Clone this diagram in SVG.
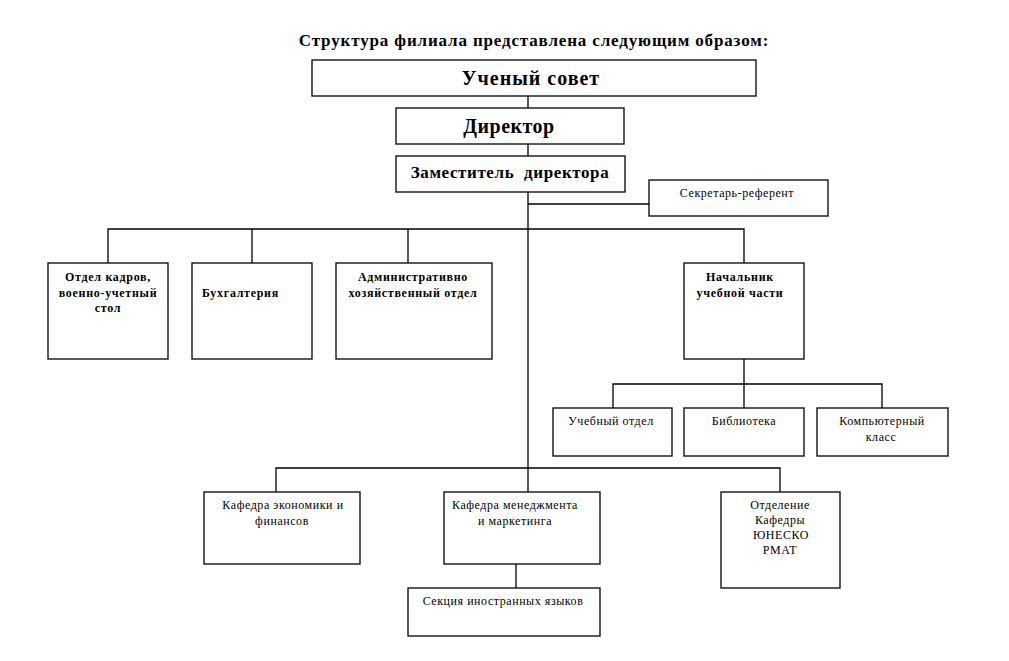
<svg xmlns="http://www.w3.org/2000/svg" width="1009" height="661" viewBox="0 0 1009 661">
<style>
rect{fill:#fff;stroke:#000;stroke-width:1.3}
.c line,.c polyline{stroke:#000;stroke-width:1.3;fill:none}
text{font-family:"Liberation Serif","Times New Roman",serif;fill:#000}
.b{font-weight:bold;font-size:12px;letter-spacing:0.7px}
.r{font-size:12px;letter-spacing:0.55px}
.m{text-anchor:middle}
</style>
<rect x="0" y="0" width="1009" height="661" style="stroke:none"/>
<text x="534" y="46" class="m" style="font-weight:bold;font-size:17px;letter-spacing:0.85px">Структура филиала представлена следующим образом:</text>
<g class="c" id="connectors">
<line x1="528" y1="96" x2="528" y2="108"/>
<line x1="528" y1="144" x2="528" y2="156"/>
<line x1="528" y1="192" x2="528" y2="468"/>
<line x1="528" y1="204" x2="649" y2="204"/>
<polyline points="108,263 108,229 744,229 744,263"/>
<line x1="252" y1="229" x2="252" y2="263"/>
<line x1="408" y1="229" x2="408" y2="263"/>
<line x1="744" y1="359" x2="744" y2="384"/>
<polyline points="613,408 613,384 882,384 882,408"/>
<line x1="744" y1="384" x2="744" y2="408"/>
<polyline points="276,492 276,468 780,468 780,492"/>
<line x1="528" y1="468" x2="528" y2="492"/>
<line x1="516" y1="564" x2="516" y2="588"/>
</g>
<g id="n-sovet"><rect x="312" y="60" width="444" height="36"/><text x="531" y="85" class="m" style="font-weight:bold;font-size:20px;letter-spacing:1px">Ученый совет</text></g>
<g id="n-director"><rect x="396" y="108" width="228" height="36"/><text x="509" y="133" class="m" style="font-weight:bold;font-size:20px;letter-spacing:0.5px">Директор</text></g>
<g id="n-zam"><rect x="396" y="156" width="229" height="36"/><text x="510" y="178" class="m" style="font-weight:bold;font-size:17px;letter-spacing:0.6px;word-spacing:5px">Заместитель директора</text></g>
<g id="n-secr"><rect x="649" y="180" width="179" height="36"/><text x="737" y="197" class="r m">Секретарь-референт</text></g>
<g id="n-kadry"><rect x="48" y="263" width="120" height="96"/><text x="108" y="281" class="b m">Отдел кадров,</text><text x="108" y="297" class="b m">военно-учетный</text><text x="108" y="312" class="b m">стол</text></g>
<g id="n-buh"><rect x="192" y="263" width="120" height="96"/><text x="202" y="297" class="b">Бухгалтерия</text></g>
<g id="n-aho"><rect x="336" y="263" width="156" height="96"/><text x="413" y="281" class="b m">Административно</text><text x="413" y="297" class="b m">хозяйственный отдел</text></g>
<g id="n-nach"><rect x="684" y="263" width="120" height="96"/><text x="740" y="281" class="b m">Начальник</text><text x="740" y="297" class="b m">учебной части</text></g>
<g id="n-uch"><rect x="553" y="408" width="119" height="48"/><text x="611" y="425" class="r m">Учебный отдел</text></g>
<g id="n-bib"><rect x="684" y="408" width="120" height="48"/><text x="744" y="425" class="r m">Библиотека</text></g>
<g id="n-comp"><rect x="817" y="408" width="131" height="48"/><text x="882" y="425" class="r m">Компьютерный</text><text x="881" y="441" class="r m">класс</text></g>
<g id="n-econ"><rect x="204" y="492" width="156" height="72"/><text x="283" y="509" class="r m">Кафедра экономики и</text><text x="282" y="525" class="r m">финансов</text></g>
<g id="n-mgmt"><rect x="444" y="492" width="156" height="72"/><text x="515" y="509" class="r m">Кафедра менеджмента</text><text x="515" y="525" class="r m">и маркетинга</text></g>
<g id="n-unesco"><rect x="721" y="492" width="119" height="96"/><text x="780" y="509" class="r m">Отделение</text><text x="780" y="524" class="r m">Кафедры</text><text x="781" y="539" class="r m">ЮНЕСКО</text><text x="780" y="554" class="r m">РМАТ</text></g>
<g id="n-lang"><rect x="408" y="588" width="192" height="48"/><text x="503" y="605" class="r m">Секция иностранных языков</text></g>
</svg>
